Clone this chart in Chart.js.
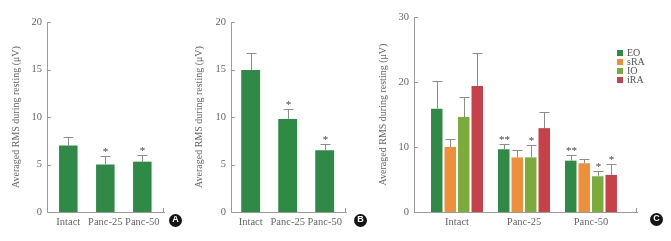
<!DOCTYPE html>
<html>
<head>
<meta charset="utf-8">
<script src="https://cdn.jsdelivr.net/npm/chart.js@4"></script>
<style>
  body { margin: 0; background: #fff; }
  #wrap { position: relative; width: 671px; height: 241px; overflow: hidden; }
  canvas { position: absolute; top: 0; }
  .badge {
    position: absolute; width: 13px; height: 13px; border-radius: 50%;
    background: #151515; color: #fff; text-align: center; line-height: 13px;
    font: bold 9px "Liberation Sans", sans-serif;
  }
</style>
</head>
<body>
<div id="wrap">
  <canvas id="chartA" width="180" height="241" style="left:0"></canvas>
  <canvas id="chartB" width="180" height="241" style="left:180px"></canvas>
  <canvas id="chartC" width="311" height="241" style="left:360px"></canvas>
  <div class="badge" style="left:169px;top:214px">A</div>
  <div class="badge" style="left:354px;top:214px">B</div>
  <div class="badge" style="left:650px;top:213px">C</div>
</div>
<script>
// groups on the x axis
const groups = ["Intact", "Panc-25", "Panc-50"];
const yTitle = "Averaged RMS during resting (μV)";

// panel A
const valuesA = [7.0, 5.0, 5.3];
const errorsA = [0.9, 0.9, 0.7];
const starsA = ["", "*", "*"];

// panel B
const valuesB = [14.95, 9.8, 6.5];
const errorsB = [1.75, 1.0, 0.7];
const starsB = ["", "*", "*"];

// panel C, one series per muscle
const muscles = ["EO", "sRA", "IO", "iRA"];
const valuesEO = [15.9, 9.65, 7.9];
const errorsEO = [4.2, 0.8, 0.85];
const starsEO = ["", "**", "**"];
const valuesSRA = [10.0, 8.4, 7.5];
const errorsSRA = [1.2, 1.1, 0.65];
const starsSRA = ["", "", ""];
const valuesIO = [14.6, 8.4, 5.5];
const errorsIO = [3.1, 1.9, 0.8];
const starsIO = ["", "*", "*"];
const valuesIRA = [19.4, 12.9, 5.7];
const errorsIRA = [5.1, 2.5, 1.65];
const starsIRA = ["", "", "*"];

const colors = ["#2e8a45", "#ef8f3a", "#7bab3b", "#c7414b"];
const axisColor = "#9a9a9a";
const textColor = "#666";
const serif = "'Liberation Serif', 'DejaVu Serif', serif";

Chart.defaults.font.family = serif;
Chart.defaults.color = textColor;

// error bars (upper half only) and significance stars
const errorBars = {
  id: "errorBars",
  afterDatasetsDraw(chart) {
    const ctx = chart.ctx;
    const y = chart.scales.y;
    chart.data.datasets.forEach((ds, i) => {
      chart.getDatasetMeta(i).data.forEach((bar, j) => {
        const top = Math.round(y.getPixelForValue(ds.data[j].y + ds.errors[j])) + 0.5;
        const x = Math.round(bar.x) + 0.5;
        ctx.save();
        ctx.strokeStyle = "#8c8c8c";
        ctx.lineWidth = 1;
        ctx.beginPath();
        ctx.moveTo(x, bar.y);
        ctx.lineTo(x, top);
        ctx.moveTo(x - 5, top);
        ctx.lineTo(x + 5, top);
        ctx.stroke();
        if (ds.stars[j]) {
          ctx.fillStyle = "#444";
          ctx.font = "11px " + serif;
          ctx.textAlign = "center";
          ctx.fillText(ds.stars[j], x, top - 2);
        }
        ctx.restore();
      });
    });
  }
};

// small tick marks pointing into the plot, plus the end tick of the x axis
const innerTicks = {
  id: "innerTicks",
  afterDraw(chart) {
    const ctx = chart.ctx;
    const y = chart.scales.y;
    const a = chart.chartArea;
    ctx.save();
    ctx.strokeStyle = axisColor;
    ctx.lineWidth = 1;
    ctx.beginPath();
    y.ticks.forEach(t => {
      const py = Math.round(y.getPixelForValue(t.value)) + 0.5;
      ctx.moveTo(a.left, py);
      ctx.lineTo(a.left + 4, py);
    });
    const rx = Math.round(a.right) - 0.5;
    ctx.moveTo(rx, a.bottom);
    ctx.lineTo(rx, a.bottom - 4);
    ctx.stroke();
    ctx.restore();
  }
};

// legend inside the plot for panel C
const boxLegend = {
  id: "boxLegend",
  afterDraw(chart, args, opts) {
    if (!opts.show) return;
    const ctx = chart.ctx;
    ctx.save();
    ctx.font = "10px " + serif;
    ctx.textBaseline = "middle";
    chart.data.datasets.forEach((ds, i) => {
      const cy = opts.y + i * 9;
      ctx.fillStyle = ds.backgroundColor;
      ctx.fillRect(opts.x, cy - 3, 6, 6);
      ctx.fillStyle = "#555";
      ctx.fillText(ds.label, opts.x + 10, cy);
    });
    ctx.restore();
  }
};

function series(label, values, errors, stars, color) {
  return {
    label: label,
    data: values.map((v, i) => ({ x: i, y: v })),
    errors: errors,
    stars: stars,
    backgroundColor: color
  };
}

function makeChart(id, datasets, cfg) {
  new Chart(document.getElementById(id), {
    type: "bar",
    data: { datasets: datasets },
    options: {
      responsive: false,
      animation: false,
      categoryPercentage: cfg.catPct,
      barPercentage: cfg.barPct,
      layout: { padding: { top: cfg.top, right: cfg.right, left: 0, bottom: 0 } },
      plugins: {
        legend: { display: false },
        tooltip: { enabled: false },
        boxLegend: cfg.legend || { show: false }
      },
      scales: {
        x: {
          type: "linear",
          min: cfg.xMin,
          max: cfg.xMax,
          offset: false,
          afterBuildTicks: s => { s.ticks = groups.map((g, i) => ({ value: i })); },
          afterFit: s => { s.height = 29; },
          grid: { display: false, drawTicks: false },
          border: { color: axisColor },
          ticks: {
            callback: v => groups[v] ?? "",
            padding: 4,
            autoSkip: false,
            maxRotation: 0,
            font: { size: 10.5 }
          }
        },
        y: {
          min: 0,
          max: cfg.yMax,
          afterFit: s => { s.width = cfg.left; },
          grid: { display: false, drawTicks: false },
          border: { color: axisColor },
          ticks: { stepSize: cfg.step, padding: 5, font: { size: 10.5 } },
          title: {
            display: true,
            text: yTitle,
            font: { size: 10 },
            padding: { top: cfg.titlePad, bottom: 0 }
          }
        }
      }
    },
    plugins: [errorBars, innerTicks, boxLegend]
  });
}

makeChart("chartA", [series("RMS", valuesA, errorsA, starsA, colors[0])], {
  top: 22, right: 16, left: 47, xMin: -0.576, xMax: 2.586,
  yMax: 20, step: 5, titlePad: 10, catPct: 1, barPct: 0.5
});

makeChart("chartB", [series("RMS", valuesB, errorsB, starsB, colors[0])], {
  top: 22, right: 14, left: 51, xMin: -0.532, xMax: 2.576,
  yMax: 20, step: 5, titlePad: 13, catPct: 1, barPct: 0.51
});

makeChart("chartC", [
  series(muscles[0], valuesEO, errorsEO, starsEO, colors[0]),
  series(muscles[1], valuesSRA, errorsSRA, starsSRA, colors[1]),
  series(muscles[2], valuesIO, errorsIO, starsIO, colors[2]),
  series(muscles[3], valuesIRA, errorsIRA, starsIRA, colors[3])
], {
  top: 17, right: 34, left: 54, xMin: -0.642, xMax: 2.687,
  yMax: 30, step: 10, titlePad: 17, catPct: 0.806, barPct: 0.85,
  legend: { show: true, x: 257, y: 53 }
});
</script>
</body>
</html>
